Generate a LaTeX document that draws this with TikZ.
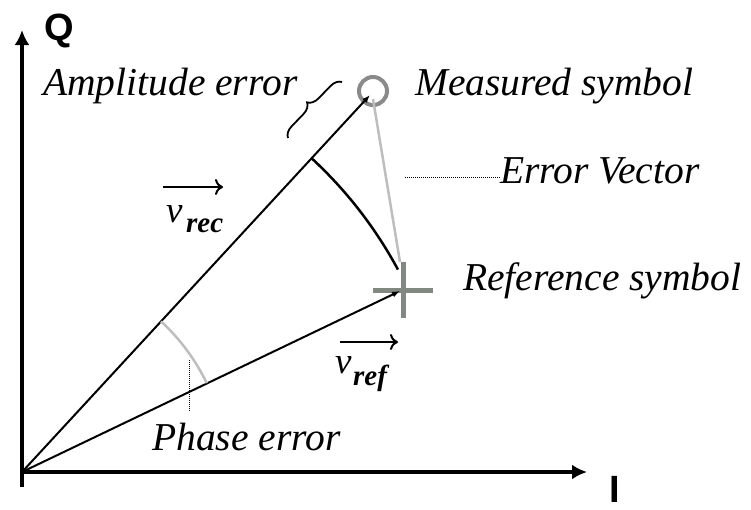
\documentclass[tikz,border=0pt]{standalone}
\usepackage{fontspec}
\setmainfont{Liberation Serif}
\newfontfamily\axfont{Liberation Sans}
\usetikzlibrary{arrows.meta,decorations.pathreplacing,calc}
\definecolor{measgray}{RGB}{138,138,138}
\definecolor{plusgray}{RGB}{128,136,128}
\definecolor{lightg}{RGB}{190,190,190}
\tikzset{
  lbl/.style={inner sep=0pt, anchor=base west, font=\fontsize{39.5}{39.5}\selectfont\itshape},
  axlbl/.style={inner sep=0pt, anchor=base west, font=\axfont\bfseries\fontsize{38}{38}\selectfont},
  axis/.style={line width=3.5pt, -{Latex[length=15pt,width=15pt]}},
  vec/.style={line width=2pt, -{Latex[length=8pt,width=6pt]}},
  overarrow/.style={line width=2pt, -{To[length=8pt,width=16pt,line width=2pt]}},
  meas/.style={circle, draw=measgray, line width=4pt, minimum size=28pt, inner sep=0pt},
  plusbar/.style={draw=plusgray, line width=5pt},
  errv/.style={draw=lightg, line width=2.5pt},
  amparc/.style={draw=black, line width=2.5pt},
  phasearc/.style={draw=lightg, line width=2.5pt},
  leader/.style={draw=black, line width=1pt, densely dotted},
  bracestyle/.style={draw=black, line width=1.8pt, decorate, decoration={brace, amplitude=11pt}},
  vsym/.style={inner sep=0pt, anchor=base west, font=\fontsize{37}{37}\selectfont\itshape},
  vsub/.style={inner sep=0pt, anchor=base west, font=\fontsize{29}{29}\selectfont\bfseries\itshape}
}
\begin{document}
\begin{tikzpicture}[x=1pt,y=-1pt]
\useasboundingbox (0,0) rectangle (751,509);
% origin and axes
\coordinate (O) at (22,472);
\coordinate (Qbot) at (22,487);
\coordinate (Qtop) at (22,30);
\coordinate (Iend) at (587,472);
\draw[axis] (Qbot) -- (Qtop);
\draw[axis] (O) -- (Iend);
\node[axlbl] (Q) at (44,40) {Q};
\node[axlbl] (I) at (609,502) {I};
% symbols
\node[meas] (M) at (373,91) {};
\coordinate (R) at (403,290);
\draw[plusbar] ($(R)+(-30,0)$) -- ($(R)+(30,0)$);
\draw[plusbar] ($(R)+(0,-28)$) -- ($(R)+(0,28)$);
% vectors
\draw[vec] (O) -- ($(M.center)+(-3,4)$);
\draw[vec] (O) -- ($(R)+(-3,1)$);
% error vector
\draw[errv] ($(M.center)+(0,8)$) -- ($(R)+(-3,-28)$);
% amplitude arc
\draw[amparc] (O) ++(-47.3:427) arc[start angle=-47.3, end angle=-28.3, radius=427];
% phase arc
\draw[phasearc] (O) ++(-47.3:205) arc[start angle=-47.3, end angle=-25.7, radius=205];
% brace
\coordinate (B1) at (288,138);
\coordinate (B2) at (342,82);
\draw[bracestyle] (B1) -- (B2);
% labels
\node[lbl] (amp) at (43,95) {Amplitude error};
\node[lbl] (meastxt) at (415,95) {Measured symbol};
\node[lbl] (errtxt) at (500,183) {Error Vector};
\node[lbl] (reftxt) at (463,290) {Reference symbol};
\node[lbl] (phtxt) at (152,450) {Phase error};
% leaders
\coordinate (L1) at (405,177);
\draw[leader] (L1) -- (errtxt.west |- L1);
\coordinate (P1) at (189,360);
\coordinate (P2) at (189,412);
\draw[leader] (P1) -- (P2);
% v_rec
\coordinate (a1) at (163,187);
\coordinate (a2) at (223,187);
\draw[overarrow] (a1) -- (a2);
\node[vsym] (vrec) at (166,222) {v};
\node[vsub] (rec) at (186,232) {rec};
% v_ref
\coordinate (b1) at (340,342);
\coordinate (b2) at (398,342);
\draw[overarrow] (b1) -- (b2);
\node[vsym] (vref) at (335,373) {v};
\node[vsub] (ref) at (353,385) {ref};
\end{tikzpicture}
\end{document}
